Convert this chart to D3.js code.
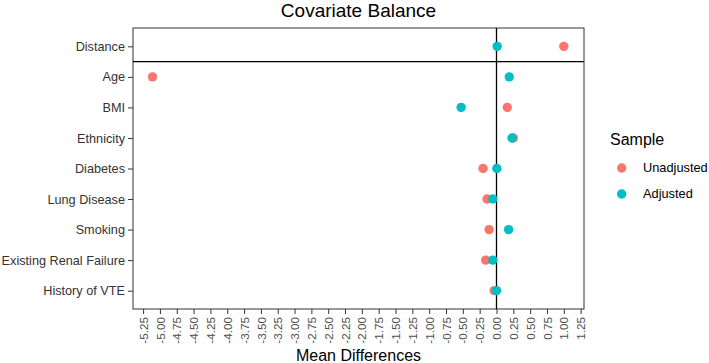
<!DOCTYPE html>
<html>
<head>
<meta charset="utf-8">
<script src="https://cdn.jsdelivr.net/npm/d3@7"></script>
<style>
  body { margin: 0; background: #fff; }
  svg { display: block; font-family: "Liberation Sans", Arial, Helvetica, sans-serif; }
</style>
</head>
<body>
<div id="chart"></div>
<script>
const covariates = ['Distance', 'Age', 'BMI', 'Ethnicity', 'Diabetes', 'Lung Disease',
  'Smoking', 'Existing Renal Failure', 'History of VTE'];
const unadjusted = [1.00, -5.11, 0.16, 0.25, -0.20, -0.14, -0.11, -0.16, -0.035];
const adjusted = [0.01, 0.19, -0.525, 0.23, 0.005, -0.055, 0.18, -0.055, 0.0];
const xTicks = [-5.25, -5.00, -4.75, -4.50, -4.25, -4.00, -3.75, -3.50, -3.25, -3.00,
  -2.75, -2.50, -2.25, -2.00, -1.75, -1.50, -1.25, -1.00, -0.75, -0.50, -0.25,
  0.00, 0.25, 0.50, 0.75, 1.00, 1.25];
const seriesNames = ['Unadjusted', 'Adjusted'];
const seriesColors = ['#F8766D', '#00BFC4'];

const W = 709, H = 363;
const panel = { left: 133, right: 584, top: 28, bottom: 309 };

const svg = d3.select('#chart').append('svg')
  .attr('width', W).attr('height', H);

const x = d3.scaleLinear().domain([-5.40, 1.30]).range([panel.left, panel.right]);
const y = d3.scalePoint().domain(covariates).range([panel.top, panel.bottom]).padding(0.6);

// Title
svg.append('text')
  .attr('x', (panel.left + panel.right) / 2).attr('y', 17)
  .attr('text-anchor', 'middle')
  .style('font-size', '19px').style('fill', '#000')
  .text('Covariate Balance');

// Axes
const fmt = d => d.toFixed(2); // plain hyphen minus, like the original
const xAxis = svg.append('g')
  .attr('transform', `translate(0,${panel.bottom})`)
  .call(d3.axisBottom(x).tickValues(xTicks).tickFormat(fmt).tickSize(5).tickPadding(3));
xAxis.select('.domain').remove();
xAxis.selectAll('.tick line').attr('stroke', '#333');
xAxis.selectAll('.tick text')
  .attr('transform', 'rotate(-90)')
  .attr('text-anchor', 'end')
  .attr('x', -8).attr('y', 0).attr('dy', '0.35em')
  .style('font-size', '11.7px').style('fill', '#4d4d4d').style('font-family', 'inherit');

const yAxis = svg.append('g')
  .attr('transform', `translate(${panel.left},0)`)
  .call(d3.axisLeft(y).tickSize(5).tickPadding(3));
yAxis.select('.domain').remove();
yAxis.selectAll('.tick line').attr('stroke', '#333');
yAxis.selectAll('.tick text')
  .style('font-size', '12.7px').style('fill', '#333').style('font-family', 'inherit');

// Panel border
svg.append('rect')
  .attr('x', panel.left).attr('y', panel.top)
  .attr('width', panel.right - panel.left).attr('height', panel.bottom - panel.top)
  .attr('fill', 'none').attr('stroke', '#333').attr('stroke-width', 1);

// Reference lines
svg.append('line')
  .attr('x1', x(0)).attr('x2', x(0))
  .attr('y1', panel.top).attr('y2', panel.bottom)
  .attr('stroke', '#000').attr('stroke-width', 1.3);

const sepY = (y(covariates[0]) + y(covariates[1])) / 2;
svg.append('line')
  .attr('x1', panel.left).attr('x2', panel.right)
  .attr('y1', sepY).attr('y2', sepY)
  .attr('stroke', '#000').attr('stroke-width', 1.3);

// Points
[unadjusted, adjusted].forEach((vals, s) => {
  svg.append('g').selectAll('circle')
    .data(covariates)
    .enter()
    .append('circle')
    .attr('cx', (d, i) => x(vals[i]))
    .attr('cy', d => y(d))
    .attr('r', 4.7)
    .attr('fill', seriesColors[s]);
});

// Axis title
svg.append('text')
  .attr('x', (panel.left + panel.right) / 2).attr('y', 361)
  .attr('text-anchor', 'middle')
  .style('font-size', '16px').style('fill', '#000')
  .text('Mean Differences');

// Legend
const legend = svg.append('g');
legend.append('text')
  .attr('x', 610).attr('y', 145)
  .style('font-size', '16px').style('fill', '#000')
  .text('Sample');
seriesNames.forEach((name, i) => {
  const ly = 168 + i * 26;
  legend.append('circle')
    .attr('cx', 621.7).attr('cy', ly).attr('r', 4.7)
    .attr('fill', seriesColors[i]);
  legend.append('text')
    .attr('x', 643).attr('y', ly).attr('dy', '0.35em')
    .style('font-size', '12.8px').style('fill', '#000')
    .text(name);
});
</script>
</body>
</html>
